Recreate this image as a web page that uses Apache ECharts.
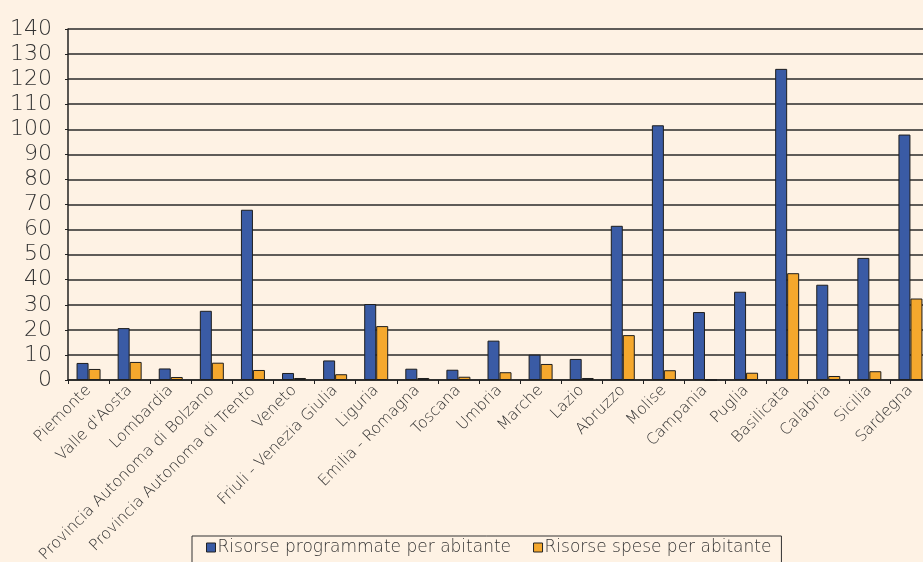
<!DOCTYPE html>
<html>
<head>
<meta charset="utf-8">
<script src="https://cdn.jsdelivr.net/npm/echarts@6/dist/echarts.min.js"></script>
<style>
  html, body { margin: 0; padding: 0; background: #fef2e4; }
  #chart { width: 923px; height: 562px; }
</style>
</head>
<body>
<div id="chart"></div>
<script>
var regioni = ["Piemonte", "Valle d'Aosta", "Lombardia", "Provincia Autonoma di Bolzano",
  "Provincia Autonoma di Trento", "Veneto", "Friuli - Venezia Giulia", "Liguria",
  "Emilia - Romagna", "Toscana", "Umbria", "Marche", "Lazio", "Abruzzo", "Molise",
  "Campania", "Puglia", "Basilicata", "Calabria", "Sicilia", "Sardegna"];
var programmate = [6.8, 20.7, 4.6, 27.6, 67.9, 2.8, 7.8, 30.3, 4.5, 4.1, 15.7, 10.1, 8.4,
  61.5, 101.6, 27.1, 35.2, 124.1, 38.0, 48.7, 97.9];
var spese = [4.4, 7.2, 1.2, 6.9, 4.0, 0.8, 2.3, 21.5, 0.8, 1.3, 3.1, 6.4, 0.8,
  17.9, 3.9, 0, 2.9, 42.6, 1.6, 3.5, 32.5];
var serieNomi = ["Risorse programmate per abitante", "Risorse spese per abitante"];

var font = "'DejaVu Sans', sans-serif";
var chart = echarts.init(document.getElementById("chart"));
chart.setOption({
  backgroundColor: "#fef2e4",
  animation: false,
  textStyle: { fontFamily: font, fontWeight: 200 },
  grid: { left: 68, top: 29, right: -8, bottom: 182, outerBoundsMode: "none" },
  legend: {
    data: serieNomi,
    left: 192,
    top: 536,
    height: 30,
    padding: [3, 10, 8, 14],
    itemGap: 22,
    itemWidth: 9,
    itemHeight: 9,
    icon: "rect",
    borderColor: "#333",
    borderWidth: 1,
    itemStyle: { borderColor: "#222", borderWidth: 1 },
    textStyle: { fontFamily: font, fontWeight: 200, fontSize: 17, color: "#333", padding: [0, 0, 0, -3] }
  },
  xAxis: {
    type: "category",
    data: regioni,
    axisLine: { lineStyle: { color: "#222", width: 1.5 } },
    axisTick: { show: true, length: 4, lineStyle: { color: "#222" } },
    axisLabel: {
      interval: 0,
      rotate: 45,
      margin: 8,
      fontSize: 15.5,
      fontWeight: 200,
      color: "#333",
      fontFamily: font
    }
  },
  yAxis: {
    type: "value",
    min: 0,
    max: 140,
    interval: 10,
    axisLine: { show: true, lineStyle: { color: "#222", width: 1.5 } },
    axisTick: { show: true, length: 3, lineStyle: { color: "#222" } },
    splitLine: { lineStyle: { color: "#2a2a2a", width: 1.5 } },
    axisLabel: { fontSize: 22, fontWeight: 200, color: "#333", margin: 16, fontFamily: font }
  },
  series: [
    {
      name: serieNomi[0],
      type: "bar",
      data: programmate,
      barWidth: 12,
      barGap: "0%",
      itemStyle: { color: "#3a5ba5", borderColor: "#1e1e1e", borderWidth: 1 }
    },
    {
      name: serieNomi[1],
      type: "bar",
      data: spese,
      barWidth: 12,
      barGap: "0%",
      itemStyle: { color: "#f5a82d", borderColor: "#1e1e1e", borderWidth: 1 }
    }
  ]
});
</script>
</body>
</html>
